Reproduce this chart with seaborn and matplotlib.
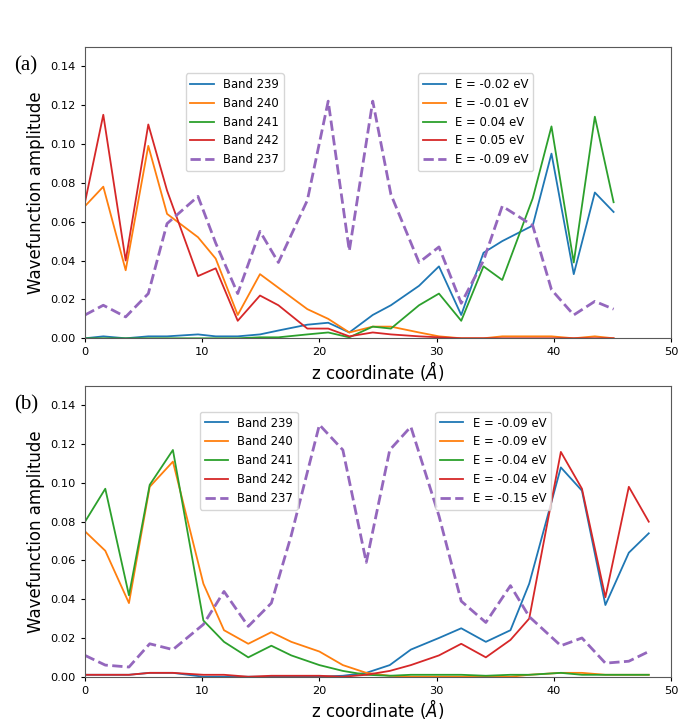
import numpy as np
import pandas as pd
import matplotlib
matplotlib.use("Agg")
import matplotlib.pyplot as plt
import seaborn as sns

# posições z (painel a e painel b)
z_a = [0, 1.56, 3.47, 5.4, 7.0, 9.64, 11.15, 13.03, 14.93, 16.5, 18.97, 20.75,
       22.55, 24.55, 26.1, 28.5, 30.2, 32.1, 34.0, 35.6, 38.2, 39.8, 41.7, 43.5, 45.1]
z_b = [0, 1.73, 3.75, 5.52, 7.5, 10.1, 11.86, 13.93, 15.9, 17.6, 20.0, 22.0,
       24.0, 26.0, 27.8, 30.2, 32.1, 34.2, 36.3, 37.9, 40.6, 42.4, 44.4, 46.4, 48.1]

# painel (a)
a_239 = [0.000, 0.001, 0.000, 0.001, 0.001, 0.002, 0.001, 0.001, 0.002, 0.004, 0.007, 0.008,
         0.003, 0.012, 0.017, 0.027, 0.037, 0.012, 0.044, 0.050, 0.058, 0.095, 0.033, 0.075, 0.065]
a_240 = [0.068, 0.078, 0.035, 0.099, 0.064, 0.052, 0.041, 0.012, 0.033, 0.026, 0.015, 0.010,
         0.003, 0.006, 0.006, 0.003, 0.001, 0.000, 0.000, 0.001, 0.001, 0.001, 0.000, 0.001, 0.000]
a_241 = [0.000, 0.000, 0.000, 0.000, 0.000, 0.000, 0.000, 0.000, 0.0005, 0.0005, 0.002, 0.003,
         0.0005, 0.006, 0.005, 0.017, 0.023, 0.009, 0.037, 0.030, 0.072, 0.109, 0.039, 0.114, 0.070]
a_242 = [0.070, 0.115, 0.040, 0.110, 0.076, 0.032, 0.036, 0.009, 0.022, 0.017, 0.005, 0.005,
         0.001, 0.003, 0.002, 0.001, 0.0005, 0.000, 0.000, 0.000, 0.000, 0.000, 0.000, 0.000, 0.000]
a_237 = [0.012, 0.017, 0.011, 0.023, 0.059, 0.073, 0.049, 0.023, 0.055, 0.039, 0.071, 0.122,
         0.045, 0.122, 0.074, 0.039, 0.047, 0.018, 0.040, 0.068, 0.058, 0.025, 0.012, 0.019, 0.015]
energias_a = ["-0.02", "-0.01", "0.04", "0.05", "-0.09"]

# painel (b)
b_239 = [0.001, 0.001, 0.001, 0.002, 0.002, 0.000, 0.000, 0.000, 0.000, 0.000, 0.000, 0.0005,
         0.002, 0.006, 0.014, 0.020, 0.025, 0.018, 0.024, 0.048, 0.108, 0.096, 0.037, 0.064, 0.074]
b_240 = [0.075, 0.065, 0.038, 0.098, 0.111, 0.048, 0.024, 0.017, 0.023, 0.018, 0.013, 0.006,
         0.002, 0.0005, 0.000, 0.000, 0.000, 0.000, 0.000, 0.001, 0.002, 0.002, 0.001, 0.001, 0.001]
b_241 = [0.080, 0.097, 0.042, 0.099, 0.117, 0.029, 0.018, 0.010, 0.016, 0.011, 0.006, 0.003,
         0.001, 0.0005, 0.001, 0.001, 0.001, 0.0005, 0.001, 0.001, 0.002, 0.001, 0.001, 0.001, 0.001]
b_242 = [0.001, 0.001, 0.001, 0.002, 0.002, 0.001, 0.001, 0.000, 0.0005, 0.0005, 0.0005, 0.000,
         0.001, 0.003, 0.006, 0.011, 0.017, 0.010, 0.019, 0.030, 0.116, 0.097, 0.041, 0.098, 0.080]
b_237 = [0.011, 0.006, 0.005, 0.017, 0.014, 0.027, 0.044, 0.026, 0.038, 0.073, 0.130, 0.117,
         0.059, 0.117, 0.129, 0.083, 0.039, 0.028, 0.047, 0.031, 0.016, 0.020, 0.007, 0.008, 0.013]
energias_b = ["-0.09", "-0.09", "-0.04", "-0.04", "-0.15"]

bandas = ["239", "240", "241", "242", "237"]
cores = sns.color_palette("tab10")[:5]

fig = plt.figure(figsize=(6.9, 7.21), dpi=100)
ax_a = fig.add_axes([0.1232, 0.5308, 0.8493, 0.4044])
ax_b = fig.add_axes([0.1232, 0.0614, 0.8493, 0.4032])


def desenha(ax, z, series, energias, pos1, pos2):
    linhas = []
    for i, (y, banda) in enumerate(zip(series, bandas)):
        df = pd.DataFrame({"z": z, "amp": y})
        tracejado = banda == "237"
        sns.lineplot(data=df, x="z", y="amp", ax=ax, color=cores[i],
                     linewidth=2.0 if tracejado else 1.3,
                     linestyle="--" if tracejado else "-",
                     label="Band " + banda, legend=False)
        linhas.append(ax.lines[-1])
    ax.set_xlim(0, 50)
    ax.set_ylim(0, 0.15)
    ax.set_xticks(np.arange(0, 51, 10))
    ax.set_yticks(np.arange(0, 0.141, 0.02))
    ax.tick_params(labelsize=8.2, length=3)
    ax.set_xlabel(r"z coordinate ($\AA$)", fontsize=12, labelpad=1)
    ax.set_ylabel("Wavefunction amplitude", fontsize=12, labelpad=4)
    for s in ax.spines.values():
        s.set_color("0.35")
    leg1 = ax.legend(linhas, ["Band " + b for b in bandas], loc="upper left",
                     bbox_to_anchor=pos1, borderaxespad=0, fontsize=8.4)
    ax.add_artist(leg1)
    ax.legend(linhas, ["E = " + e + " eV" for e in energias], loc="upper left",
              bbox_to_anchor=pos2, borderaxespad=0, fontsize=8.4)


desenha(ax_a, z_a, [a_239, a_240, a_241, a_242, a_237], energias_a, (0.172, 0.909), (0.568, 0.909))
desenha(ax_b, z_b, [b_239, b_240, b_241, b_242, b_237], energias_b, (0.196, 0.911), (0.598, 0.911))

fig.text(0.021, 0.902, "(a)", fontsize=15, family="Liberation Serif")
fig.text(0.021, 0.432, "(b)", fontsize=15, family="Liberation Serif")

fig.savefig("out.png", dpi=100)
